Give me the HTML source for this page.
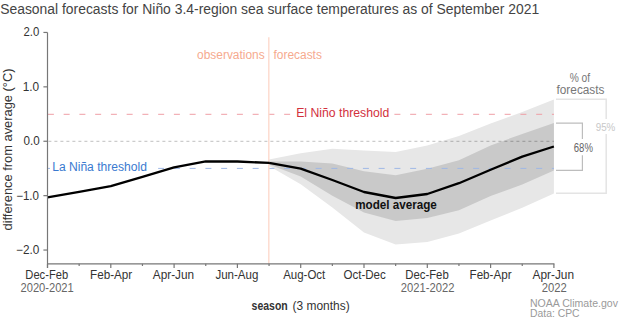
<!DOCTYPE html>
<html><head><meta charset="utf-8"><style>
html,body{margin:0;padding:0;background:#fff;width:620px;height:320px;overflow:hidden}
svg{display:block;font-family:"Liberation Sans", sans-serif}
</style></head><body>
<svg width="620" height="320" viewBox="0 0 620 320">
<rect width="620" height="320" fill="#fff"/>
<polygon points="269.05,159.50 300.70,153.30 332.35,148.80 364.00,150.60 395.65,152.00 427.30,145.60 458.95,136.00 490.60,123.50 522.25,112.00 553.90,99.50 553.90,193.50 522.25,207.70 490.60,220.60 458.95,233.50 427.30,242.00 395.65,244.50 364.00,232.50 332.35,207.40 300.70,184.20 269.05,166.00" fill="#e7e7e7"/>
<polygon points="269.05,161.60 300.70,161.40 332.35,163.50 364.00,171.30 395.65,175.20 427.30,168.70 458.95,160.20 490.60,145.50 522.25,133.90 553.90,123.00 553.90,170.50 522.25,184.50 490.60,196.10 458.95,210.30 427.30,218.00 395.65,221.00 364.00,212.60 332.35,195.80 300.70,176.50 269.05,164.50" fill="#c9c9c9"/>
<line x1="48.4" y1="141.3" x2="554" y2="141.3" stroke="#000" stroke-opacity="0.25" stroke-width="1" stroke-dasharray="3 3"/>
<line x1="47.9" y1="114.3" x2="554" y2="114.3" stroke="#ef9ea6" stroke-width="1" stroke-dasharray="6 9.75"/>
<line x1="47.9" y1="168.4" x2="554" y2="168.4" stroke="#9fb8e6" stroke-width="1" stroke-dasharray="6 9.75"/>
<rect x="292" y="106" width="101" height="14" fill="#fff"/>
<rect x="50" y="159" width="101" height="14" fill="#fff"/>
<line x1="268.8" y1="37.2" x2="268.8" y2="263.5" stroke="#fddcd0" stroke-width="1.5"/>
<polyline points="47.50,197.40 79.15,191.80 110.80,186.20 142.45,176.80 174.10,167.40 205.75,161.30 237.40,161.50 269.05,162.90" fill="none" stroke="#000" stroke-width="2.3" stroke-linejoin="round"/>
<polyline points="269.05,162.90 300.70,168.70 332.35,180.00 364.00,192.00 395.65,198.00 427.30,194.00 458.95,183.20 490.60,169.80 522.25,156.60 553.90,146.50" fill="none" stroke="#000" stroke-width="2.3" stroke-linejoin="round"/>
<line x1="47.5" y1="32.5" x2="47.5" y2="268" stroke="#777" stroke-width="1.2"/>
<line x1="47" y1="263.8" x2="554.4" y2="263.8" stroke="#777" stroke-width="1.2"/>
<line x1="43.4" y1="32.45" x2="47.5" y2="32.45" stroke="#777" stroke-width="1.2"/>
<line x1="43.4" y1="86.85" x2="47.5" y2="86.85" stroke="#777" stroke-width="1.2"/>
<line x1="43.4" y1="141.25" x2="47.5" y2="141.25" stroke="#777" stroke-width="1.2"/>
<line x1="43.4" y1="195.65" x2="47.5" y2="195.65" stroke="#777" stroke-width="1.2"/>
<line x1="43.4" y1="250.05" x2="47.5" y2="250.05" stroke="#777" stroke-width="1.2"/>
<line x1="47.50" y1="263.8" x2="47.50" y2="268" stroke="#777" stroke-width="1.2"/>
<line x1="79.15" y1="263.8" x2="79.15" y2="266" stroke="#777" stroke-width="1.2"/>
<line x1="110.80" y1="263.8" x2="110.80" y2="268" stroke="#777" stroke-width="1.2"/>
<line x1="142.45" y1="263.8" x2="142.45" y2="266" stroke="#777" stroke-width="1.2"/>
<line x1="174.10" y1="263.8" x2="174.10" y2="268" stroke="#777" stroke-width="1.2"/>
<line x1="205.75" y1="263.8" x2="205.75" y2="266" stroke="#777" stroke-width="1.2"/>
<line x1="237.40" y1="263.8" x2="237.40" y2="268" stroke="#777" stroke-width="1.2"/>
<line x1="269.05" y1="263.8" x2="269.05" y2="266" stroke="#777" stroke-width="1.2"/>
<line x1="300.70" y1="263.8" x2="300.70" y2="268" stroke="#777" stroke-width="1.2"/>
<line x1="332.35" y1="263.8" x2="332.35" y2="266" stroke="#777" stroke-width="1.2"/>
<line x1="364.00" y1="263.8" x2="364.00" y2="268" stroke="#777" stroke-width="1.2"/>
<line x1="395.65" y1="263.8" x2="395.65" y2="266" stroke="#777" stroke-width="1.2"/>
<line x1="427.30" y1="263.8" x2="427.30" y2="268" stroke="#777" stroke-width="1.2"/>
<line x1="458.95" y1="263.8" x2="458.95" y2="266" stroke="#777" stroke-width="1.2"/>
<line x1="490.60" y1="263.8" x2="490.60" y2="268" stroke="#777" stroke-width="1.2"/>
<line x1="522.25" y1="263.8" x2="522.25" y2="266" stroke="#777" stroke-width="1.2"/>
<line x1="553.90" y1="263.8" x2="553.90" y2="268" stroke="#777" stroke-width="1.2"/>
<polyline points="556,99.2 606.2,99.2 606.2,119" fill="none" stroke="#e4e4e4" stroke-width="1.5"/>
<polyline points="606.2,134 606.2,193.2 556,193.2" fill="none" stroke="#e4e4e4" stroke-width="1.5"/>
<polyline points="556,123.2 582.4,123.2 582.4,139" fill="none" stroke="#bdbdbd" stroke-width="1.2"/>
<polyline points="582.4,155.2 582.4,170.3 556,170.3" fill="none" stroke="#bdbdbd" stroke-width="1.2"/>
<text x="0.21" y="13.9" font-size="14" font-weight="normal" fill="#444444" textLength="538.99" lengthAdjust="spacingAndGlyphs">Seasonal forecasts for Niño 3.4-region sea surface temperatures as of September 2021</text>
<text x="197.10" y="58.9" font-size="12" font-weight="normal" fill="#f6aa8e" textLength="67.55" lengthAdjust="spacingAndGlyphs">observations</text>
<text x="273.50" y="58.9" font-size="12" font-weight="normal" fill="#f6aa8e" textLength="48.39" lengthAdjust="spacingAndGlyphs">forecasts</text>
<text x="296.18" y="117.4" font-size="12" font-weight="normal" fill="#d2303c" textLength="93.12" lengthAdjust="spacingAndGlyphs">El Niño threshold</text>
<text x="52.19" y="170.9" font-size="12" font-weight="normal" fill="#3a7ad0" textLength="94.67" lengthAdjust="spacingAndGlyphs">La Niña threshold</text>
<text x="355.13" y="209.2" font-size="12" font-weight="bold" fill="#111111" textLength="81.72" lengthAdjust="spacingAndGlyphs">model average</text>
<text x="23.50" y="36.4" font-size="12" font-weight="normal" fill="#333333" textLength="15.80" lengthAdjust="spacingAndGlyphs">2.0</text>
<text x="22.71" y="90.8" font-size="12" font-weight="normal" fill="#333333" textLength="16.48" lengthAdjust="spacingAndGlyphs">1.0</text>
<text x="23.50" y="145.1" font-size="12" font-weight="normal" fill="#333333" textLength="16.20" lengthAdjust="spacingAndGlyphs">0.0</text>
<text x="16.13" y="199.6" font-size="12" font-weight="normal" fill="#333333" textLength="22.88" lengthAdjust="spacingAndGlyphs">−1.0</text>
<text x="16.02" y="254.0" font-size="12" font-weight="normal" fill="#333333" textLength="23.29" lengthAdjust="spacingAndGlyphs">−2.0</text>
<text x="25.37" y="279.3" font-size="12" font-weight="normal" fill="#333333" textLength="42.74" lengthAdjust="spacingAndGlyphs">Dec-Feb</text>
<text x="90.03" y="279.3" font-size="12" font-weight="normal" fill="#333333" textLength="42.22" lengthAdjust="spacingAndGlyphs">Feb-Apr</text>
<text x="152.80" y="279.3" font-size="12" font-weight="normal" fill="#333333" textLength="41.33" lengthAdjust="spacingAndGlyphs">Apr-Jun</text>
<text x="215.40" y="279.3" font-size="12" font-weight="normal" fill="#333333" textLength="42.98" lengthAdjust="spacingAndGlyphs">Jun-Aug</text>
<text x="283.20" y="279.3" font-size="12" font-weight="normal" fill="#333333" textLength="42.11" lengthAdjust="spacingAndGlyphs">Aug-Oct</text>
<text x="343.50" y="279.3" font-size="12" font-weight="normal" fill="#333333" textLength="42.32" lengthAdjust="spacingAndGlyphs">Oct-Dec</text>
<text x="405.26" y="279.3" font-size="12" font-weight="normal" fill="#333333" textLength="43.46" lengthAdjust="spacingAndGlyphs">Dec-Feb</text>
<text x="469.53" y="279.3" font-size="12" font-weight="normal" fill="#333333" textLength="42.12" lengthAdjust="spacingAndGlyphs">Feb-Apr</text>
<text x="532.50" y="279.3" font-size="12" font-weight="normal" fill="#333333" textLength="41.53" lengthAdjust="spacingAndGlyphs">Apr-Jun</text>
<text x="20.50" y="291.8" font-size="12" font-weight="normal" fill="#666666" textLength="53.26" lengthAdjust="spacingAndGlyphs">2020-2021</text>
<text x="400.80" y="291.8" font-size="12" font-weight="normal" fill="#666666" textLength="53.56" lengthAdjust="spacingAndGlyphs">2021-2022</text>
<text x="541.80" y="291.8" font-size="12" font-weight="normal" fill="#666666" textLength="25.06" lengthAdjust="spacingAndGlyphs">2022</text>
<text x="251.60" y="309.7" font-size="12" font-weight="bold" fill="#333333" textLength="36.11" lengthAdjust="spacingAndGlyphs">season</text>
<text x="292.60" y="309.7" font-size="12" font-weight="normal" fill="#333333" textLength="57.06" lengthAdjust="spacingAndGlyphs">(3 months)</text>
<text x="530.00" y="306.6" font-size="10.5" font-weight="normal" fill="#9a9a9a" textLength="87.95" lengthAdjust="spacingAndGlyphs">NOAA Climate.gov</text>
<text x="530.01" y="317.1" font-size="10.5" font-weight="normal" fill="#9a9a9a" textLength="49.57" lengthAdjust="spacingAndGlyphs">Data: CPC</text>
<text x="569.70" y="81.9" font-size="12" font-weight="normal" fill="#777777" textLength="20.46" lengthAdjust="spacingAndGlyphs">% of</text>
<text x="556.50" y="93.5" font-size="12" font-weight="normal" fill="#777777" textLength="47.99" lengthAdjust="spacingAndGlyphs">forecasts</text>
<text x="595.70" y="131.0" font-size="11.2" font-weight="normal" fill="#c8c8c8" textLength="19.66" lengthAdjust="spacingAndGlyphs">95%</text>
<text x="573.80" y="151.9" font-size="12" font-weight="normal" fill="#666666" textLength="19.12" lengthAdjust="spacingAndGlyphs">68%</text>
<text transform="translate(12.0,230.5) rotate(-90)" font-size="13" fill="#333" textLength="162" lengthAdjust="spacingAndGlyphs">difference from average (°C)</text>
</svg></body></html>
